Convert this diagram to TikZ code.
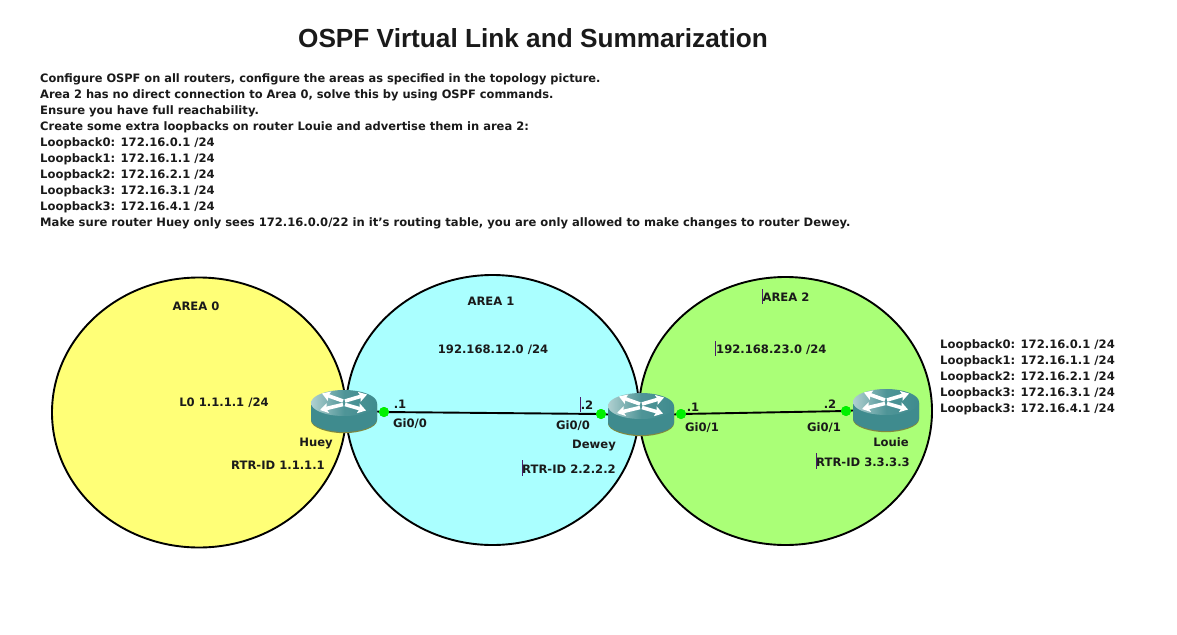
\documentclass[tikz,border=0pt]{standalone}
\usepackage{fontspec}
\setmainfont{DejaVu Sans}
\newfontfamily\titlefont{Liberation Sans}
\usetikzlibrary{arrows.meta}
\definecolor{areaY}{HTML}{FFFF77}
\definecolor{areaC}{HTML}{AAFFFF}
\definecolor{areaG}{HTML}{AAFF77}
\definecolor{teal1}{HTML}{3F8B8E}
\definecolor{teal2}{HTML}{C4DCDC}
\definecolor{ink}{HTML}{1A1A1A}
\definecolor{marker}{HTML}{4B1A6B}
\definecolor{portgreen}{HTML}{00F000}
\tikzset{
  x=1pt,y=-1pt,
  area/.style={draw=black,line width=1.9pt},
  lbl/.style={font=\fontsize{11.6}{16}\selectfont\bfseries,text=ink,inner sep=0pt,anchor=base},
  lbll/.style={lbl,anchor=base west},
  fit/.style={transform shape,xscale=#1},
  port/.style={circle,fill=portgreen,draw=none,minimum size=10pt,inner sep=0pt},
  routerbox/.style={minimum width=66pt,minimum height=43pt,inner sep=0pt,draw=none},
  link/.style={draw=black,line width=1.9pt},
  caret/.style={draw=marker,line width=.8pt},
  rarrow/.style={draw=white,line width=3.6pt,-{Stealth[length=8pt,width=10pt,inset=1.5pt]}},
  pics/router/.style={code={
    \fill[olive!60!teal1] (-33,-8) -- (-33,9) .. controls (-33,16.5) and (-15,21.7) .. (0,21.7) .. controls (15,21.7) and (33,16.5) .. (33,9) -- (33,-8) -- cycle;
    \fill[teal1] (-33,-8) -- (-33,8) .. controls (-33,15.5) and (-15,20.5) .. (0,20.5) .. controls (15,20.5) and (33,15.5) .. (33,8) -- (33,-8) -- cycle;
    \shade[left color=teal2!85!teal1,right color=teal1,middle color=teal1!88!teal2] (0,-8.5) ellipse [x radius=33,y radius=13];
    \draw[rarrow] (-1,-10.5) -- (-22,-18);
    \draw[rarrow] (1,-10.5) -- (23,-17);
    \draw[rarrow] (-1,-7) -- (-24,-1.5);
    \draw[rarrow] (1,-7) -- (22,-1);
  }}
}
\begin{document}
\begin{tikzpicture}
\useasboundingbox[fill=white] (0,0) rectangle (1177,634);
\node[font=\titlefont\fontsize{26.2}{30}\selectfont\bfseries,text=ink,inner sep=0pt,anchor=base] (title) at (533,47.5) {OSPF Virtual Link and Summarization};
\node[lbll,fit=.982] (t1) at (40,82) {Configure OSPF on all routers, configure the areas as specified in the topology picture.};
\node[lbll,fit=.986] (t2) at (40,98) {Area 2 has no direct connection to Area 0, solve this by using OSPF commands.};
\node[lbll] (t3) at (40,114) {Ensure you have full reachability.};
\node[lbll,fit=.99] (t4) at (40,130) {Create some extra loopbacks on router Louie and advertise them in area 2:};
\node[lbll] (t5) at (40,146) {Loopback0: 172.16.0.1 /24};
\node[lbll] (t6) at (40,162) {Loopback1: 172.16.1.1 /24};
\node[lbll] (t7) at (40,178) {Loopback2: 172.16.2.1 /24};
\node[lbll] (t8) at (40,194) {Loopback3: 172.16.3.1 /24};
\node[lbll] (t9) at (40,210) {Loopback3: 172.16.4.1 /24};
\node[lbll,fit=.9963] (t10) at (40,226) {Make sure router Huey only sees 172.16.0.0/22 in it’s routing table, you are only allowed to make changes to router Dewey.};
\draw[area,fill=areaY] (199,412.5) ellipse [x radius=147,y radius=135];
\draw[area,fill=areaC] (492.5,410) ellipse [x radius=146.5,y radius=135];
\draw[area,fill=areaG] (785.5,411) ellipse [x radius=146.5,y radius=134];
\node[routerbox] (huey) at (344,411.5) {};
\node[routerbox] (dewey) at (641,414.5) {};
\node[routerbox] (louie) at (886,410.5) {};
\node[port] (p1) at (384,412) {};
\node[port] (p2) at (601,414) {};
\node[port] (p3) at (681,414) {};
\node[port] (p4) at (846,411) {};
\draw[link] (huey.east) -- (p1);
\draw[link] (p1) -- (p2);
\draw[link] (p2) -- (dewey.west);
\draw[link] (dewey.east) -- (p3);
\draw[link] (p3) -- (p4);
\draw[link] (p4) -- (louie.west);
\pic at (huey) {router};
\pic at (dewey) {router};
\pic at (louie) {router};
\node[port] at (p1) {};
\node[port] at (p2) {};
\node[port] at (p3) {};
\node[port] at (p4) {};
\node[lbl] (a0) at (196,310) {AREA 0};
\node[lbl] (a1) at (491,305) {AREA 1};
\node[lbl] (a2) at (786,301) {AREA 2};
\node[lbl] (n1) at (493,353) {192.168.12.0 /24};
\node[lbll] (n2) at (716,353) {192.168.23.0 /24};
\node[lbl] (l0) at (224,406) {L0 1.1.1.1 /24};
\node[lbl] (r1) at (278,469) {RTR-ID 1.1.1.1};
\node[lbll] (r2) at (522,473) {RTR-ID 2.2.2.2};
\node[lbll] (r3) at (816,466) {RTR-ID 3.3.3.3};
\node[lbl] (hn) at (316,446) {Huey};
\node[lbl] (dn) at (594,448) {Dewey};
\node[lbl] (ln) at (891,446) {Louie};
\node[lbl] (d1) at (400,408) {.1};
\node[lbl] (g1) at (410,427) {Gi0/0};
\node[lbl] (d2) at (587,409) {.2};
\node[lbl] (g2) at (573,429) {Gi0/0};
\node[lbl] (d3) at (693,411) {.1};
\node[lbl] (g3) at (702,431) {Gi0/1};
\node[lbl] (d4) at (830,408) {.2};
\node[lbl] (g4) at (824,431) {Gi0/1};
\node[lbll] (b0) at (940,348) {Loopback0: 172.16.0.1 /24};
\node[lbll] (b1) at (940,364) {Loopback1: 172.16.1.1 /24};
\node[lbll] (b2) at (940,380) {Loopback2: 172.16.2.1 /24};
\node[lbll] (b3) at (940,396) {Loopback3: 172.16.3.1 /24};
\node[lbll] (b4) at (940,412) {Loopback3: 172.16.4.1 /24};
\draw[caret] (580.5,397) -- (580.5,412);
\draw[caret] (522.5,460) -- (522.5,476);
\draw[caret] (816.5,453) -- (816.5,469);
\draw[caret] (762.5,289) -- (762.5,304);
\draw[caret] (715.5,341) -- (715.5,356);
\end{tikzpicture}
\end{document}
